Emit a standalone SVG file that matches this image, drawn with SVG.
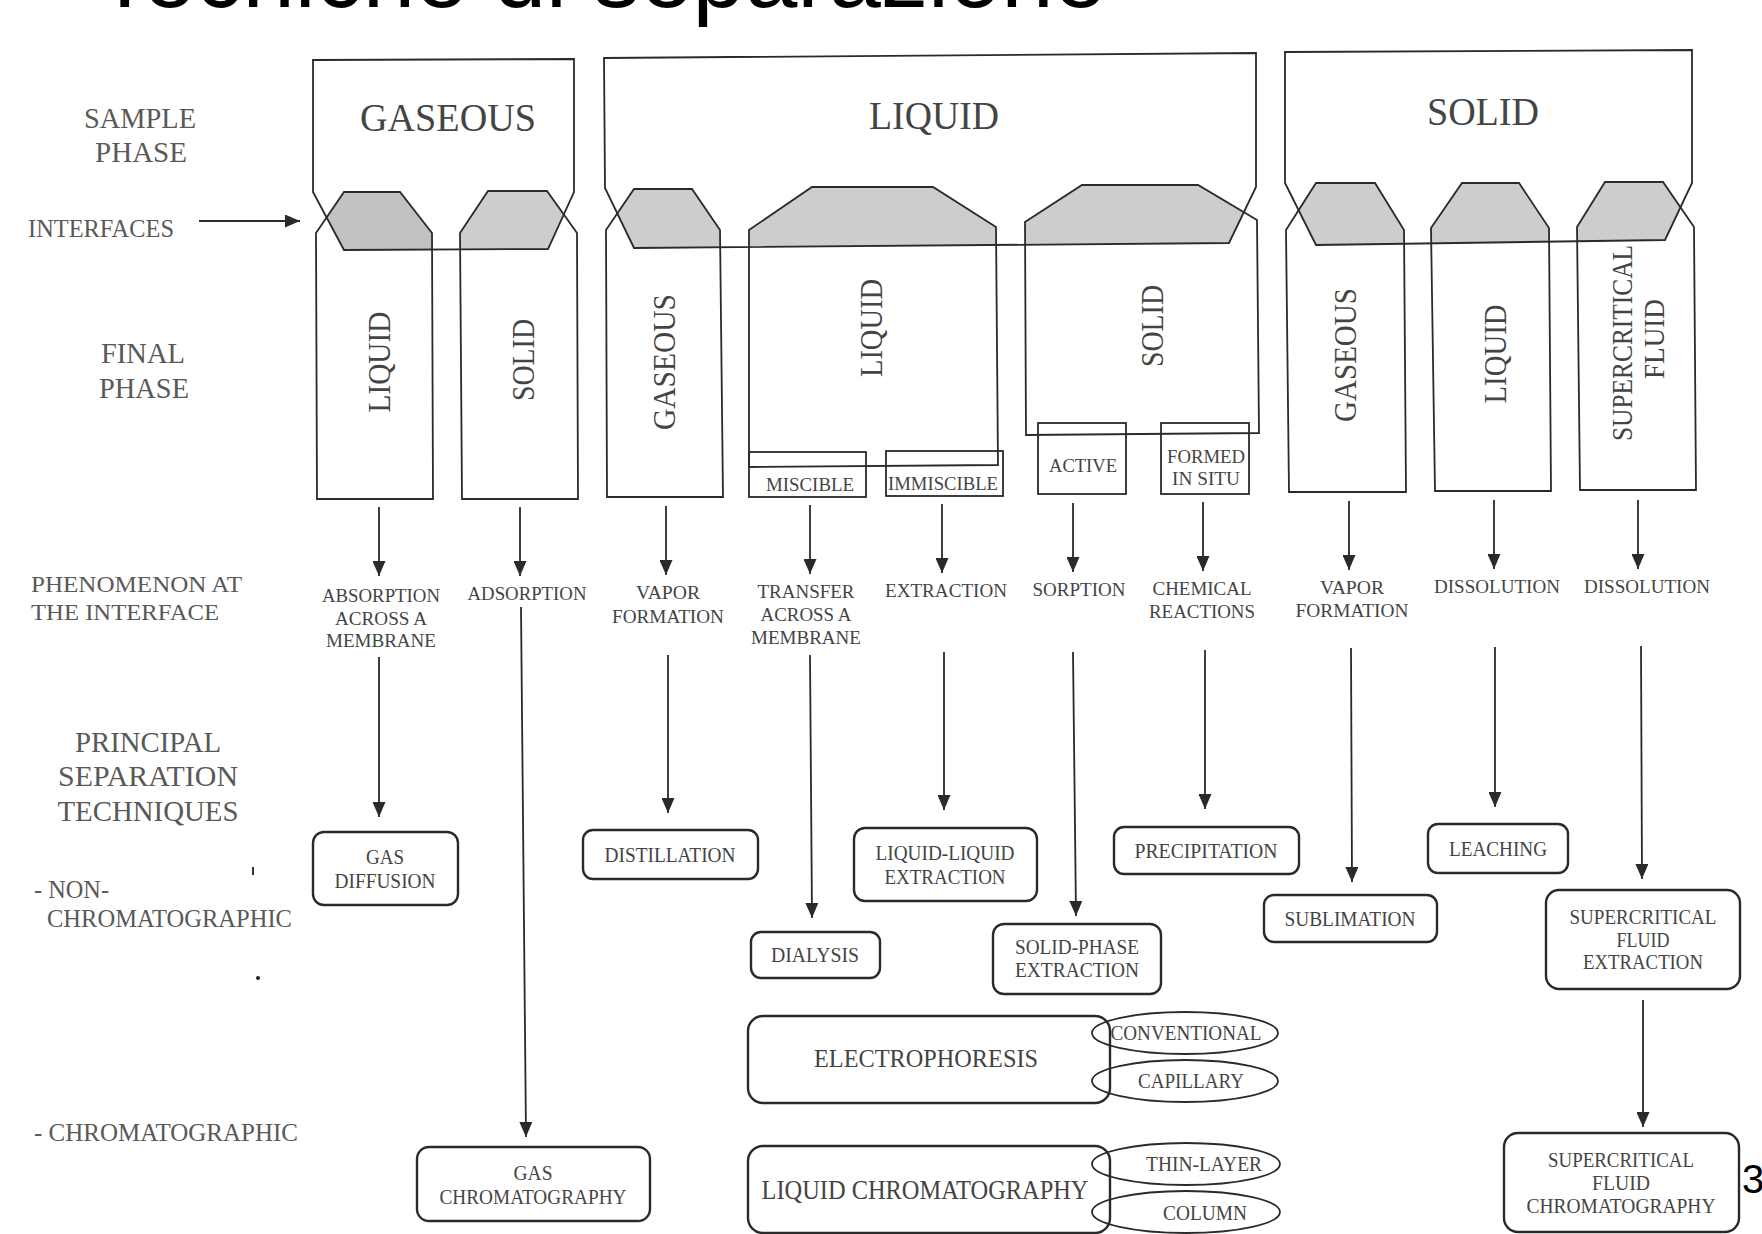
<svg xmlns="http://www.w3.org/2000/svg" width="1762" height="1234" viewBox="0 0 1762 1234">
<style>
.ln{stroke:#2a2a2a;stroke-width:1.8;fill:none;stroke-linejoin:miter}
.bx{stroke:#2a2a2a;stroke-width:2.4;fill:none}
.gr{fill:#cdcdcd;stroke:none}
.ar{stroke:#2a2a2a;stroke-width:1.8;fill:none;marker-end:url(#ah)}
.t{font-family:"Liberation Serif","Times New Roman",serif;fill:#444;text-anchor:middle;dominant-baseline:central}
.l{font-family:"Liberation Serif","Times New Roman",serif;fill:#595959;dominant-baseline:central}
.big{font-size:40px}
.fin{font-size:32px}
.sm{font-size:18px}
.ph{font-size:19px}
.tq{font-size:20px}
.title{font-family:"Liberation Sans",Arial,sans-serif;font-size:96px;fill:#000}
</style>
<defs>
<marker id="ah" viewBox="0 0 15 13" refX="15" refY="6.5" markerWidth="15" markerHeight="13" markerUnits="userSpaceOnUse" orient="auto">
<path d="M0,0 L15,6.5 L0,13 z" fill="#2a2a2a"/>
</marker>
</defs>
<rect width="1762" height="1234" fill="#ffffff"/>
<text class="title" x="96" y="7" textLength="1010" lengthAdjust="spacingAndGlyphs">Tecniche di separazione</text>

<g id="row-labels">
<text class="l" x="140" y="117" font-size="30" text-anchor="middle" textLength="112" lengthAdjust="spacingAndGlyphs">SAMPLE</text>
<text class="l" x="141" y="151" font-size="30" text-anchor="middle" textLength="92" lengthAdjust="spacingAndGlyphs">PHASE</text>
<text class="l" x="28" y="228" font-size="26" textLength="146" lengthAdjust="spacingAndGlyphs">INTERFACES</text>
<text class="l" x="143" y="352" font-size="30" text-anchor="middle" textLength="84" lengthAdjust="spacingAndGlyphs">FINAL</text>
<text class="l" x="144" y="387" font-size="30" text-anchor="middle" textLength="90" lengthAdjust="spacingAndGlyphs">PHASE</text>
<text class="l" x="31" y="584" font-size="24" textLength="211" lengthAdjust="spacingAndGlyphs">PHENOMENON AT</text>
<text class="l" x="31" y="612" font-size="24" textLength="188" lengthAdjust="spacingAndGlyphs">THE INTERFACE</text>
<text class="l" x="148" y="741" font-size="30" text-anchor="middle" textLength="146" lengthAdjust="spacingAndGlyphs">PRINCIPAL</text>
<text class="l" x="148" y="775" font-size="30" text-anchor="middle" textLength="180" lengthAdjust="spacingAndGlyphs">SEPARATION</text>
<text class="l" x="148" y="810" font-size="30" text-anchor="middle" textLength="181" lengthAdjust="spacingAndGlyphs">TECHNIQUES</text>
<text class="l" x="34" y="889" font-size="26" textLength="75" lengthAdjust="spacingAndGlyphs">- NON-</text>
<text class="l" x="47" y="918" font-size="26" textLength="245" lengthAdjust="spacingAndGlyphs">CHROMATOGRAPHIC</text>
<text class="l" x="34" y="1132" font-size="26" textLength="264" lengthAdjust="spacingAndGlyphs">- CHROMATOGRAPHIC</text>
<line x1="253" y1="867" x2="253" y2="875" stroke="#333" stroke-width="2"/>
<circle cx="258" cy="978" r="2" fill="#222"/>
</g>

<g id="interfaces-fill">
<polygon class="gr" fill="#c2c2c2" style="fill:#c2c2c2" points="344,192 400,192 432,233 432,249.5 344,250 326.6,217.5"/>
<polygon class="gr" points="488,191 547,191 563.8,214.5 548,249 460,249.5 460,233"/>
<polygon class="gr" points="634,189 692,189 720,230 720,247.3 634,248 617.3,213.5"/>
<polygon class="gr" points="812,187 933,187 996,227 996,245 749,246.6 749,230"/>
<polygon class="gr" points="1082,185 1198,185 1243.9,212.2 1229,243 1025,244.7 1025,222"/>
<polygon class="gr" points="1316,183 1375,183 1404,230 1404,243.7 1316,245 1298.6,210.2"/>
<polygon class="gr" points="1462,183 1519,183 1549,228 1549,241.7 1431,243.4 1431,228"/>
<polygon class="gr" points="1605,182 1663,182 1680.5,207.4 1665,240 1577,241.3 1577,227"/>
</g>

<g id="sample-gaseous">
<polygon class="ln" points="313,60 574,59 574,192 548,249 344,250 313,192"/>
<text class="t big" x="448" y="117" textLength="176" lengthAdjust="spacingAndGlyphs">GASEOUS</text>
</g>
<g id="sample-liquid">
<polygon class="ln" points="604,58 1256,53 1256,187 1229,243 634,248 605,188"/>
<text class="t big" x="934" y="115" textLength="130" lengthAdjust="spacingAndGlyphs">LIQUID</text>
</g>
<g id="sample-solid">
<polygon class="ln" points="1285,52 1692,50 1692,183 1665,240 1316,245 1285,183"/>
<text class="t big" x="1483" y="111" textLength="112" lengthAdjust="spacingAndGlyphs">SOLID</text>
</g>

<g id="final-g-liquid">
<polygon class="ln" points="344,192 400,192 432,233 433,499 317,499 316,233"/>
<text class="t fin" transform="translate(379,362) rotate(-90)" textLength="101" lengthAdjust="spacingAndGlyphs">LIQUID</text>
</g>
<g id="final-g-solid">
<polygon class="ln" points="488,191 547,191 577,233 578,499 462,499 460,233"/>
<text class="t fin" transform="translate(523,360) rotate(-90)" textLength="82" lengthAdjust="spacingAndGlyphs">SOLID</text>
</g>
<g id="final-l-gaseous">
<polygon class="ln" points="634,189 692,189 720,230 723,497 607,497 606,230"/>
<text class="t fin" transform="translate(664,362) rotate(-90)" textLength="136" lengthAdjust="spacingAndGlyphs">GASEOUS</text>
</g>
<g id="final-l-liquid">
<polygon class="ln" points="812,187 933,187 996,227 998,465 749,467 749,230"/>
<text class="t fin" transform="translate(871,328) rotate(-90)" textLength="98" lengthAdjust="spacingAndGlyphs">LIQUID</text>
</g>
<g id="miscible">
<rect class="ln" x="749" y="452" width="117" height="45"/>
<text class="t sm" x="810" y="485" textLength="88" lengthAdjust="spacingAndGlyphs">MISCIBLE</text>
</g>
<g id="immiscible">
<rect class="ln" x="886" y="451" width="117" height="45"/>
<text class="t sm" x="943" y="484" textLength="110" lengthAdjust="spacingAndGlyphs">IMMISCIBLE</text>
</g>
<g id="final-l-solid">
<polygon class="ln" points="1082,185 1198,185 1257,220 1259,433 1026,435 1025,222"/>
<text class="t fin" transform="translate(1152,326) rotate(-90)" textLength="82" lengthAdjust="spacingAndGlyphs">SOLID</text>
</g>
<g id="active">
<rect class="ln" x="1038" y="423" width="88" height="71"/>
<text class="t sm" x="1083" y="466" textLength="68" lengthAdjust="spacingAndGlyphs">ACTIVE</text>
</g>
<g id="formed-in-situ">
<rect class="ln" x="1161" y="423" width="88" height="71"/>
<text class="t sm" x="1206" y="457" textLength="78" lengthAdjust="spacingAndGlyphs">FORMED</text>
<text class="t sm" x="1206" y="479" textLength="68" lengthAdjust="spacingAndGlyphs">IN SITU</text>
</g>
<g id="final-s-gaseous">
<polygon class="ln" points="1316,183 1375,183 1404,230 1406,492 1289,492 1286,230"/>
<text class="t fin" transform="translate(1345,355) rotate(-90)" textLength="134" lengthAdjust="spacingAndGlyphs">GASEOUS</text>
</g>
<g id="final-s-liquid">
<polygon class="ln" points="1462,183 1519,183 1549,228 1551,491 1435,491 1431,228"/>
<text class="t fin" transform="translate(1495,354) rotate(-90)" textLength="99" lengthAdjust="spacingAndGlyphs">LIQUID</text>
</g>
<g id="final-s-scf">
<polygon class="ln" points="1605,182 1663,182 1694,227 1696,490 1580,490 1577,227"/>
<text class="t" font-size="30" transform="translate(1621,343) rotate(-90)" textLength="196" lengthAdjust="spacingAndGlyphs">SUPERCRITICAL</text>
<text class="t" font-size="30" transform="translate(1653,339) rotate(-90)" textLength="80" lengthAdjust="spacingAndGlyphs">FLUID</text>
</g>

<g id="phenomena">
<g id="ph-absorption">
<text class="t ph" x="381" y="595" textLength="118" lengthAdjust="spacingAndGlyphs">ABSORPTION</text>
<text class="t ph" x="381" y="618" textLength="92" lengthAdjust="spacingAndGlyphs">ACROSS A</text>
<text class="t ph" x="381" y="640" textLength="110" lengthAdjust="spacingAndGlyphs">MEMBRANE</text>
</g>
<g id="ph-adsorption"><text class="t ph" x="527" y="593" textLength="119" lengthAdjust="spacingAndGlyphs">ADSORPTION</text></g>
<g id="ph-vapor1">
<text class="t ph" x="668" y="592" textLength="64" lengthAdjust="spacingAndGlyphs">VAPOR</text>
<text class="t ph" x="668" y="616" textLength="112" lengthAdjust="spacingAndGlyphs">FORMATION</text>
</g>
<g id="ph-transfer">
<text class="t ph" x="806" y="591" textLength="97" lengthAdjust="spacingAndGlyphs">TRANSFER</text>
<text class="t ph" x="806" y="614" textLength="91" lengthAdjust="spacingAndGlyphs">ACROSS A</text>
<text class="t ph" x="806" y="637" textLength="110" lengthAdjust="spacingAndGlyphs">MEMBRANE</text>
</g>
<g id="ph-extraction"><text class="t ph" x="946" y="590" textLength="122" lengthAdjust="spacingAndGlyphs">EXTRACTION</text></g>
<g id="ph-sorption"><text class="t ph" x="1079" y="589" textLength="93" lengthAdjust="spacingAndGlyphs">SORPTION</text></g>
<g id="ph-chemical">
<text class="t ph" x="1202" y="588" textLength="99" lengthAdjust="spacingAndGlyphs">CHEMICAL</text>
<text class="t ph" x="1202" y="611" textLength="106" lengthAdjust="spacingAndGlyphs">REACTIONS</text>
</g>
<g id="ph-vapor2">
<text class="t ph" x="1352" y="587" textLength="64" lengthAdjust="spacingAndGlyphs">VAPOR</text>
<text class="t ph" x="1352" y="610" textLength="113" lengthAdjust="spacingAndGlyphs">FORMATION</text>
</g>
<g id="ph-dissolution1"><text class="t ph" x="1497" y="586" textLength="126" lengthAdjust="spacingAndGlyphs">DISSOLUTION</text></g>
<g id="ph-dissolution2"><text class="t ph" x="1647" y="586" textLength="126" lengthAdjust="spacingAndGlyphs">DISSOLUTION</text></g>
</g>

<g id="tech-gas-diffusion">
<rect class="bx" x="313" y="832" width="145" height="73" rx="11"/>
<text class="t tq" x="385" y="857" textLength="38" lengthAdjust="spacingAndGlyphs">GAS</text>
<text class="t tq" x="385" y="881" textLength="101" lengthAdjust="spacingAndGlyphs">DIFFUSION</text>
</g>
<g id="tech-distillation">
<rect class="bx" x="583" y="830" width="175" height="49" rx="10"/>
<text class="t tq" x="670" y="855" textLength="131" lengthAdjust="spacingAndGlyphs">DISTILLATION</text>
</g>
<g id="tech-lle">
<rect class="bx" x="854" y="828" width="183" height="73" rx="11"/>
<text class="t tq" x="945" y="853" textLength="139" lengthAdjust="spacingAndGlyphs">LIQUID-LIQUID</text>
<text class="t tq" x="945" y="877" textLength="121" lengthAdjust="spacingAndGlyphs">EXTRACTION</text>
</g>
<g id="tech-precipitation">
<rect class="bx" x="1114" y="827" width="185" height="47" rx="10"/>
<text class="t tq" x="1206" y="851" textLength="143" lengthAdjust="spacingAndGlyphs">PRECIPITATION</text>
</g>
<g id="tech-leaching">
<rect class="bx" x="1428" y="824" width="140" height="49" rx="10"/>
<text class="t tq" x="1498" y="849" textLength="98" lengthAdjust="spacingAndGlyphs">LEACHING</text>
</g>
<g id="tech-sublimation">
<rect class="bx" x="1264" y="895" width="173" height="47" rx="10"/>
<text class="t tq" x="1350" y="919" textLength="131" lengthAdjust="spacingAndGlyphs">SUBLIMATION</text>
</g>
<g id="tech-sfe">
<rect class="bx" x="1546" y="890" width="194" height="99" rx="13"/>
<text class="t tq" x="1643" y="917" textLength="147" lengthAdjust="spacingAndGlyphs">SUPERCRITICAL</text>
<text class="t tq" x="1643" y="940" textLength="53" lengthAdjust="spacingAndGlyphs">FLUID</text>
<text class="t tq" x="1643" y="962" textLength="120" lengthAdjust="spacingAndGlyphs">EXTRACTION</text>
</g>
<g id="tech-dialysis">
<rect class="bx" x="751" y="932" width="129" height="46" rx="10"/>
<text class="t tq" x="815" y="955" textLength="88" lengthAdjust="spacingAndGlyphs">DIALYSIS</text>
</g>
<g id="tech-spe">
<rect class="bx" x="993" y="924" width="168" height="70" rx="11"/>
<text class="t tq" x="1077" y="947" textLength="124" lengthAdjust="spacingAndGlyphs">SOLID-PHASE</text>
<text class="t tq" x="1077" y="970" textLength="124" lengthAdjust="spacingAndGlyphs">EXTRACTION</text>
</g>
<g id="tech-electrophoresis">
<rect class="bx" x="748" y="1016" width="362" height="87" rx="15"/>
<text class="t" font-size="25" x="926" y="1058" textLength="224" lengthAdjust="spacingAndGlyphs">ELECTROPHORESIS</text>
</g>
<g id="opt-conventional">
<ellipse class="ln" cx="1185" cy="1033" rx="93" ry="21"/>
<text class="t" font-size="20" x="1186" y="1033" textLength="151" lengthAdjust="spacingAndGlyphs">CONVENTIONAL</text>
</g>
<g id="opt-capillary">
<ellipse class="ln" cx="1185" cy="1081" rx="93" ry="21"/>
<text class="t" font-size="20" x="1191" y="1081" textLength="106" lengthAdjust="spacingAndGlyphs">CAPILLARY</text>
</g>
<g id="tech-lc">
<rect class="bx" x="748" y="1146" width="362" height="87" rx="15"/>
<text class="t" font-size="27" x="925" y="1190" textLength="327" lengthAdjust="spacingAndGlyphs">LIQUID CHROMATOGRAPHY</text>
</g>
<g id="opt-thin-layer">
<ellipse class="ln" cx="1186" cy="1164" rx="94" ry="21"/>
<text class="t" font-size="20" x="1204" y="1164" textLength="116" lengthAdjust="spacingAndGlyphs">THIN-LAYER</text>
</g>
<g id="opt-column">
<ellipse class="ln" cx="1186" cy="1212" rx="94" ry="21"/>
<text class="t" font-size="20" x="1205" y="1213" textLength="84" lengthAdjust="spacingAndGlyphs">COLUMN</text>
</g>
<g id="tech-gc">
<rect class="bx" x="417" y="1147" width="233" height="74" rx="12"/>
<text class="t tq" x="533" y="1173" textLength="39" lengthAdjust="spacingAndGlyphs">GAS</text>
<text class="t tq" x="533" y="1197" textLength="187" lengthAdjust="spacingAndGlyphs">CHROMATOGRAPHY</text>
</g>
<g id="tech-sfc">
<rect class="bx" x="1504" y="1133" width="235" height="99" rx="14"/>
<text class="t tq" x="1621" y="1160" textLength="146" lengthAdjust="spacingAndGlyphs">SUPERCRITICAL</text>
<text class="t tq" x="1621" y="1183" textLength="58" lengthAdjust="spacingAndGlyphs">FLUID</text>
<text class="t tq" x="1621" y="1206" textLength="189" lengthAdjust="spacingAndGlyphs">CHROMATOGRAPHY</text>
</g>

<text id="page-number" x="1742" y="1193" font-family="Liberation Sans,Arial,sans-serif" font-size="40" fill="#000">3</text>

<g id="connectors">
<line class="ar" x1="199" y1="221" x2="300" y2="221"/>
<line class="ar" x1="379" y1="507" x2="379" y2="576"/>
<line class="ar" x1="520" y1="507" x2="520" y2="576"/>
<line class="ar" x1="666" y1="506" x2="666" y2="575"/>
<line class="ar" x1="810" y1="505" x2="810" y2="574"/>
<line class="ar" x1="942" y1="504" x2="942" y2="573"/>
<line class="ar" x1="1073" y1="503" x2="1073" y2="572"/>
<line class="ar" x1="1203" y1="502" x2="1203" y2="571"/>
<line class="ar" x1="1349" y1="501" x2="1349" y2="570"/>
<line class="ar" x1="1494" y1="500" x2="1494" y2="569"/>
<line class="ar" x1="1638" y1="500" x2="1638" y2="569"/>
<line class="ar" x1="379" y1="657" x2="379" y2="817"/>
<line class="ar" x1="521" y1="607" x2="526" y2="1137"/>
<line class="ar" x1="668" y1="655" x2="668" y2="813"/>
<line class="ar" x1="810" y1="655" x2="812" y2="918"/>
<line class="ar" x1="944" y1="652" x2="944" y2="810"/>
<line class="ar" x1="1073" y1="652" x2="1076" y2="916"/>
<line class="ar" x1="1205" y1="650" x2="1205" y2="809"/>
<line class="ar" x1="1351" y1="648" x2="1352" y2="882"/>
<line class="ar" x1="1495" y1="647" x2="1495" y2="807"/>
<line class="ar" x1="1641" y1="646" x2="1642" y2="879"/>
<line class="ar" x1="1643" y1="1000" x2="1643" y2="1127"/>
</g>
</svg>
